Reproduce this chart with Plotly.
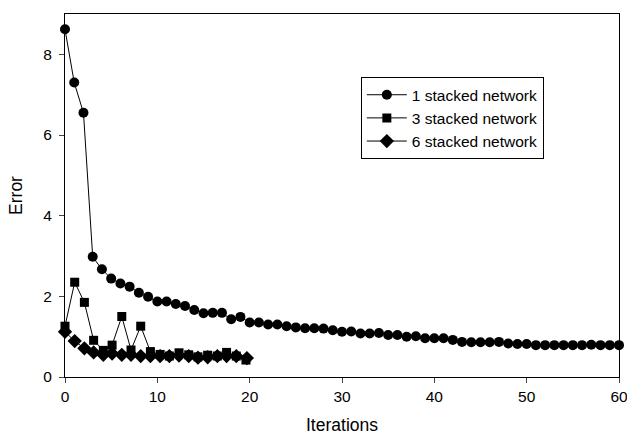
import plotly.graph_objects as go

iter_1 = list(range(61))
err_1 = [8.62, 7.30, 6.55, 2.98, 2.67, 2.44, 2.32, 2.24, 2.09, 1.99,
         1.87, 1.87, 1.81, 1.76, 1.66, 1.58, 1.59, 1.59, 1.43, 1.49,
         1.35, 1.35, 1.30, 1.30, 1.26, 1.23, 1.21, 1.21, 1.20, 1.16,
         1.12, 1.13, 1.08, 1.08, 1.09, 1.04, 1.04, 1.00, 1.01, 0.96,
         0.96, 0.96, 0.92, 0.87, 0.86, 0.86, 0.86, 0.87, 0.83, 0.82,
         0.82, 0.79, 0.79, 0.79, 0.79, 0.79, 0.79, 0.80, 0.79, 0.79, 0.79]

iter_3 = [0, 1.05, 2.1, 3.1, 4.15, 5.1, 6.15, 7.15, 8.2, 9.25,
          10.3, 11.3, 12.35, 13.4, 14.4, 15.45, 16.5, 17.5, 18.55, 19.6]
err_3 = [1.26, 2.35, 1.85, 0.91, 0.66, 0.79, 1.50, 0.67, 1.26, 0.63,
         0.56, 0.52, 0.60, 0.55, 0.50, 0.54, 0.52, 0.61, 0.52, 0.42]

iter_6 = [0, 1.05, 2.1, 3.1, 4.15, 5.1, 6.15, 7.15, 8.2, 9.25,
          10.3, 11.3, 12.35, 13.4, 14.4, 15.45, 16.5, 17.5, 18.55, 19.7]
err_6 = [1.12, 0.89, 0.71, 0.61, 0.55, 0.58, 0.55, 0.55, 0.52, 0.52,
         0.52, 0.52, 0.53, 0.52, 0.48, 0.49, 0.52, 0.52, 0.52, 0.47]

names = ["1 stacked network", "3 stacked network", "6 stacked network"]
x_ticks = [0, 10, 20, 30, 40, 50, 60]
y_ticks = [0, 2, 4, 6, 8]

FONT = "Liberation Sans, Arial, sans-serif"

fig = go.Figure()
for xs, ys, name, sym, size in [
    (iter_1, err_1, names[0], "circle", 10),
    (iter_3, err_3, names[1], "square", 9),
    (iter_6, err_6, names[2], "diamond", 11),
]:
    fig.add_trace(go.Scatter(
        x=xs, y=ys, name=name, mode="lines+markers",
        line=dict(color="black", width=1),
        marker=dict(symbol=sym, size=size, color="black"),
        cliponaxis=False,
    ))

fig.update_layout(
    width=627, height=435,
    margin=dict(l=65, r=8, t=14, b=58, autoexpand=False),
    paper_bgcolor="white", plot_bgcolor="white",
    font=dict(family=FONT, color="black", size=15),
    showlegend=True,
    legend=dict(
        x=0.534, y=0.826, xanchor="left", yanchor="top",
        bordercolor="black", borderwidth=1, bgcolor="white",
        font=dict(size=15.5, family=FONT),
        itemsizing="trace", itemwidth=40,
    ),
)
fig.update_xaxes(
    range=[0, 60], tickvals=x_ticks, ticks="outside", ticklen=5,
    showline=True, linecolor="black", linewidth=1, mirror=True,
    showgrid=False, zeroline=False, automargin=False,
    ticklabeloverflow="allow",
    title=dict(text="Iterations", font=dict(size=17.5), standoff=17),
    tickfont=dict(size=15.5),
)
fig.update_yaxes(
    range=[0, 9], tickvals=y_ticks, ticks="outside", ticklen=5,
    showline=True, linecolor="black", linewidth=1, mirror=True,
    showgrid=False, zeroline=False, automargin=False,
    ticklabeloverflow="allow", ticklabelstandoff=4,
    title=dict(text="Error", font=dict(size=17.5), standoff=16),
    tickfont=dict(size=15.5),
)

fig.write_html("out.html", config={"displayModeBar": False},
               post_script="document.body.style.margin='0';document.body.style.overflow='hidden';")
